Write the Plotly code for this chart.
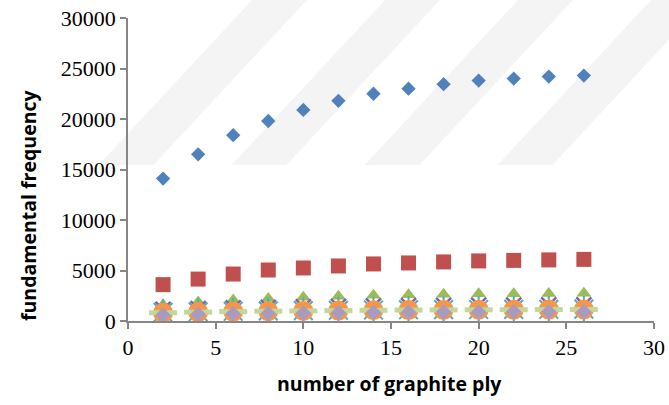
import plotly.graph_objects as go

plies = [2, 4, 6, 8, 10, 12, 14, 16, 18, 20, 22, 24, 26]

s1_diamond = [14100, 16500, 18400, 19800, 20900, 21800, 22500, 23000, 23450, 23800, 24000, 24200, 24300]
s2_square = [3600, 4150, 4650, 5050, 5250, 5450, 5650, 5750, 5850, 5950, 6000, 6050, 6100]
s3_triangle = [1600, 1870, 2080, 2240, 2360, 2460, 2540, 2600, 2650, 2690, 2710, 2730, 2750]
s4_x = [1150, 1230, 1300, 1360, 1410, 1450, 1490, 1520, 1540, 1560, 1575, 1585, 1590]
s5_star = [850, 910, 960, 1000, 1030, 1060, 1090, 1110, 1130, 1140, 1150, 1160, 1170]
s6_circle = [820, 880, 930, 970, 1000, 1030, 1060, 1080, 1100, 1110, 1120, 1130, 1140]
s7_band = [820, 880, 930, 970, 1000, 1030, 1060, 1080, 1100, 1110, 1120, 1130, 1140]
s8_diamond = [600, 660, 710, 750, 780, 810, 840, 860, 880, 895, 905, 915, 920]

x_ticks = [0, 5, 10, 15, 20, 25, 30]
y_ticks = [0, 5000, 10000, 15000, 20000, 25000, 30000]

fig = go.Figure()

def add(vals, symbol, size, color, line_color=None, line_width=0):
    fig.add_trace(go.Scatter(
        x=plies, y=vals, mode="markers",
        marker=dict(symbol=symbol, size=size, color=color,
                    line=dict(color=line_color or color, width=line_width)),
        showlegend=False, hoverinfo="skip"))

add(s1_diamond, "diamond", 11, "#4F81BD")
add(s2_square, "square", 15, "#C0504D")
add(s3_triangle, "triangle-up", 13, "#9BBB59")
add(s4_x, "x-thin-open", 15, "#8064A2", line_width=2.5)
add(s5_star, "asterisk-open", 22, "#4BACC6", line_width=2)
add(s6_circle, "circle", 20, "#F79646")
add(s7_band, "line-ew-open", 20, "#C3D69B", line_width=5)
add(s8_diamond, "diamond", 12, "#A99BBD")

# decorative background watermark stripes (pixel -> paper conversion)
L, R, T, B = 128, 654, 18, 321
def px(xp):
    return (xp - L) / (R - L)
def py(yp):
    return (B - yp) / (B - T)
shapes = []
for x0 in [252, 385, 518, 651]:
    w = 55
    ytop, ybot = 0, 165
    k = 0.93
    path = "M {a},{b} L {c},{d} L {e},{f} L {g},{h} Z".format(
        a=px(x0), b=py(ytop), c=px(x0 + w), d=py(ytop),
        e=px(x0 + w - k * (ybot - ytop)), f=py(ybot),
        g=px(x0 - k * (ybot - ytop)), h=py(ybot))
    shapes.append(dict(type="path", path=path, xref="paper", yref="paper",
                       fillcolor="rgba(0,0,0,0.045)", line=dict(width=0), layer="below"))

axis_common = dict(showgrid=False, zeroline=False, showline=True, linecolor="#868686",
                   linewidth=1.5, ticks="outside", ticklen=6, tickcolor="#868686", tickwidth=1.5,
                   automargin=False,
                   tickfont=dict(family="Liberation Serif", size=22, color="#000000"))

fig.update_layout(
    width=669, height=405,
    margin=dict(l=128, r=15, t=18, b=84, autoexpand=False),
    paper_bgcolor="white", plot_bgcolor="rgba(0,0,0,0)",
    shapes=shapes,
    xaxis=dict(range=[0, 30], tickvals=x_ticks, ticktext=[str(v) for v in x_ticks], **axis_common),
    yaxis=dict(range=[0, 30000], tickvals=y_ticks, ticktext=[str(v) for v in y_ticks], **axis_common),
    annotations=[
        dict(text="<b>number of graphite ply</b>", xref="paper", yref="paper",
             x=px(389), y=py(383), xanchor="center", yanchor="middle", showarrow=False,
             font=dict(family="Open Sans", size=19.5, color="#000000")),
        dict(text="<b>fundamental frequency</b>", xref="paper", yref="paper",
             x=px(28), y=py(206), xanchor="center", yanchor="middle", showarrow=False,
             textangle=-90, font=dict(family="Open Sans", size=19.5, color="#000000")),
    ],
)

fig.write_html("out.html", config={"displayModeBar": False},
               post_script="document.body.style.margin='0';document.body.style.padding='0';")
